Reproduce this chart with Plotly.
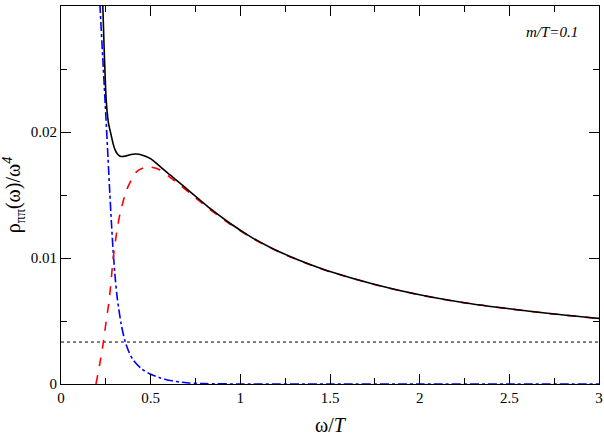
import plotly.graph_objects as go

# total spectral function (black solid)
total_w = [0.225, 0.232, 0.238, 0.242, 0.246, 0.251, 0.258, 0.266, 0.279, 0.290, 0.301,
           0.315, 0.33, 0.345, 0.36, 0.38, 0.40, 0.42, 0.45, 0.496, 0.55, 0.608, 0.66,
           0.719, 0.78, 0.831, 0.942, 1.054, 1.165, 1.277, 1.389, 1.5, 1.75, 2.0, 2.25,
           2.5, 2.75, 3.0]
total_v = [0.0335, 0.0305, 0.0278, 0.0260, 0.0245, 0.0228, 0.0215, 0.0206, 0.0198, 0.0191,
           0.0186, 0.01825, 0.01808, 0.01805, 0.01809, 0.01818, 0.01824, 0.01825, 0.01818,
           0.01791, 0.01730, 0.01659, 0.01598, 0.01527, 0.01453, 0.01393, 0.01276, 0.01172,
           0.01085, 0.01012, 0.00949, 0.00893, 0.00790, 0.00708, 0.00645, 0.00597, 0.00556,
           0.00521]

# first contribution (red dashed)
red_w = [0.195, 0.215, 0.236, 0.252, 0.269, 0.292, 0.31, 0.329, 0.366, 0.40, 0.422, 0.46,
         0.496, 0.55, 0.608, 0.66, 0.719, 0.78, 0.831, 0.942, 1.054, 1.165, 1.277, 1.389,
         1.5, 1.75, 2.0, 2.25, 2.5, 2.75, 3.0]
red_v = [0.0, 0.0015, 0.0033, 0.0050, 0.0067, 0.0101, 0.0120, 0.0135, 0.0154, 0.0164,
         0.01685, 0.01715, 0.01722, 0.01700, 0.01640, 0.01585, 0.01515, 0.01443, 0.01385,
         0.01270, 0.01168, 0.01082, 0.01010, 0.00947, 0.00891, 0.00789, 0.00707, 0.00644,
         0.00596, 0.00555, 0.00520]

# second contribution (blue dash-dot)
blue_w = [0.207, 0.2175, 0.235, 0.250, 0.262, 0.272, 0.282, 0.292, 0.303, 0.314, 0.335,
          0.357, 0.38, 0.403, 0.45, 0.496, 0.55, 0.6, 0.7, 0.8, 1.0, 1.5, 2.0, 2.5, 3.0]
blue_v = [0.0330, 0.0300, 0.0253, 0.0213, 0.0180, 0.0152, 0.0126, 0.0103, 0.0083, 0.0068,
          0.0048, 0.0034, 0.0025, 0.0019, 0.0012, 0.0008, 0.0005, 0.0003, 0.0001, 0.00003,
          0.0, 0.0, 0.0, 0.0, 0.0]

# horizontal reference level (dotted)
ref_level = 0.00333
x_range = [0, 3]
y_range = [0, 0.03]

x_ticks = [0, 0.5, 1, 1.5, 2, 2.5, 3]
x_ticklabels = ["0", "0.5", "1", "1.5", "2", "2.5", "3"]
y_ticks = [0, 0.01, 0.02, 0.03]
y_ticklabels = ["0", "0.01", "0.02", "0.03"]

FONT = "Liberation Serif"

fig = go.Figure()
fig.add_trace(go.Scatter(x=x_range, y=[ref_level, ref_level], mode="lines",
                         line=dict(color="black", width=1, dash="dot"), hoverinfo="skip"))
fig.add_trace(go.Scatter(x=blue_w, y=blue_v, mode="lines", line_shape="spline",
                         line=dict(color="#0000ff", width=1.6, dash="dashdot", smoothing=0.8)))
fig.add_trace(go.Scatter(x=red_w, y=red_v, mode="lines", line_shape="spline",
                         line=dict(color="#ff0000", width=1.6, dash="dash", smoothing=0.8)))
fig.add_trace(go.Scatter(x=total_w, y=total_v, mode="lines", line_shape="spline",
                         line=dict(color="black", width=1.6, smoothing=0.8)))

axis_common = dict(showgrid=False, zeroline=False, showline=True, linecolor="black",
                   linewidth=1, mirror="allticks", ticks="inside", tickcolor="black",
                   tickwidth=1, ticklen=10, automargin=False,
                   tickfont=dict(family=FONT, size=15, color="black"))

fig.update_xaxes(range=x_range, tickvals=x_ticks, ticktext=x_ticklabels,
                 minor=dict(ticks="inside", dtick=0.25, ticklen=6, tickcolor="black",
                            showgrid=False),
                 title=dict(text="ω/<i>T</i>", font=dict(family=FONT, size=20, color="black"),
                            standoff=14),
                 **axis_common)
fig.update_yaxes(range=y_range, tickvals=y_ticks, ticktext=y_ticklabels,
                 minor=dict(ticks="inside", dtick=0.005, ticklen=6, tickcolor="black",
                            showgrid=False),
                 title=dict(text="ρ<sub>ππ</sub>(ω)/ω<sup><i>4</i></sup>",
                            font=dict(family=FONT, size=20, color="black"), standoff=6),
                 **axis_common)

fig.add_annotation(x=0.965, y=0.93, xref="paper", yref="paper", xanchor="right",
                   yanchor="middle", showarrow=False, text="<i>m/T=0.1</i>",
                   font=dict(family=FONT, size=15, color="black"))

fig.update_layout(width=604, height=436, showlegend=False,
                  font=dict(family=FONT),
                  margin=dict(l=61, r=5, t=6, b=52),
                  plot_bgcolor="white", paper_bgcolor="white")

fig.write_html("out.html", config={"displayModeBar": False},
               post_script="document.body.style.margin='0px';document.body.style.padding='0px';")
